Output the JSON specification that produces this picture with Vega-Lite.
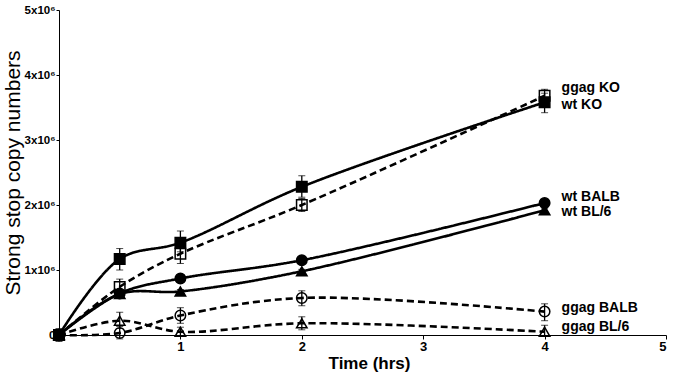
{
  "$schema": "https://vega.github.io/schema/vega-lite/v6.json",
  "width": 607,
  "height": 325,
  "autosize": "none",
  "padding": {"left": 59, "top": 10, "right": 11, "bottom": 39},
  "background": "white",
  "config": {"view": {"stroke": null}, "font": "Liberation Sans"},
  "datasets": {
    "pts": [
      {"series": "wt KO", "type": "wt", "t": 0, "v": 0, "lo": -100000, "hi": 100000},
      {"series": "wt KO", "type": "wt", "t": 0.5, "v": 1170000, "lo": 1000000, "hi": 1330000},
      {"series": "wt KO", "type": "wt", "t": 1, "v": 1420000, "lo": 1280000, "hi": 1600000},
      {"series": "wt KO", "type": "wt", "t": 2, "v": 2280000, "lo": 2120000, "hi": 2450000},
      {"series": "wt KO", "type": "wt", "t": 4, "v": 3580000, "lo": 3420000, "hi": 3720000},
      {"series": "ggag KO", "type": "ggag", "t": 0, "v": 0, "lo": 0, "hi": 0},
      {"series": "ggag KO", "type": "ggag", "t": 0.5, "v": 740000, "lo": 620000, "hi": 860000},
      {"series": "ggag KO", "type": "ggag", "t": 1, "v": 1250000, "lo": 1100000, "hi": 1380000},
      {"series": "ggag KO", "type": "ggag", "t": 2, "v": 2000000, "lo": 1900000, "hi": 2100000},
      {"series": "ggag KO", "type": "ggag", "t": 4, "v": 3680000, "lo": 3600000, "hi": 3780000},
      {"series": "wt BALB", "type": "wt", "t": 0, "v": 0, "lo": 0, "hi": 0},
      {"series": "wt BALB", "type": "wt", "t": 0.5, "v": 640000, "lo": 600000, "hi": 680000},
      {"series": "wt BALB", "type": "wt", "t": 1, "v": 870000, "lo": 840000, "hi": 900000},
      {"series": "wt BALB", "type": "wt", "t": 2, "v": 1150000, "lo": 1120000, "hi": 1180000},
      {"series": "wt BALB", "type": "wt", "t": 4, "v": 2030000, "lo": 2000000, "hi": 2060000},
      {"series": "wt BL/6", "type": "wt", "t": 0, "v": 0, "lo": 0, "hi": 0},
      {"series": "wt BL/6", "type": "wt", "t": 0.5, "v": 630000, "lo": 600000, "hi": 660000},
      {"series": "wt BL/6", "type": "wt", "t": 1, "v": 670000, "lo": 640000, "hi": 700000},
      {"series": "wt BL/6", "type": "wt", "t": 2, "v": 980000, "lo": 950000, "hi": 1010000},
      {"series": "wt BL/6", "type": "wt", "t": 4, "v": 1920000, "lo": 1890000, "hi": 1950000},
      {"series": "ggag BALB", "type": "ggag", "t": 0, "v": 0, "lo": 0, "hi": 0},
      {"series": "ggag BALB", "type": "ggag", "t": 0.5, "v": 30000, "lo": -60000, "hi": 130000},
      {"series": "ggag BALB", "type": "ggag", "t": 1, "v": 300000, "lo": 180000, "hi": 420000},
      {"series": "ggag BALB", "type": "ggag", "t": 2, "v": 570000, "lo": 450000, "hi": 680000},
      {"series": "ggag BALB", "type": "ggag", "t": 4, "v": 360000, "lo": 220000, "hi": 480000},
      {"series": "ggag BL/6", "type": "ggag", "t": 0, "v": 0, "lo": 0, "hi": 0},
      {"series": "ggag BL/6", "type": "ggag", "t": 0.5, "v": 220000, "lo": 100000, "hi": 350000},
      {"series": "ggag BL/6", "type": "ggag", "t": 1, "v": 50000, "lo": -20000, "hi": 120000},
      {"series": "ggag BL/6", "type": "ggag", "t": 2, "v": 180000, "lo": 80000, "hi": 280000},
      {"series": "ggag BL/6", "type": "ggag", "t": 4, "v": 50000, "lo": -20000, "hi": 150000}
    ],
    "labels": [
      {"label": "ggag KO", "t": 4, "v": 3800000},
      {"label": "wt KO", "t": 4, "v": 3540000},
      {"label": "wt BALB", "t": 4, "v": 2120000},
      {"label": "wt BL/6", "t": 4, "v": 1890000},
      {"label": "ggag BALB", "t": 4, "v": 420000},
      {"label": "ggag BL/6", "t": 4, "v": 130000}
    ]
  },
  "layer": [
    {
      "data": {"name": "pts"},
      "mark": {"type": "line", "interpolate": "catmull-rom", "color": "black", "strokeWidth": 2.6, "clip": false},
      "encoding": {
        "x": {"field": "t", "type": "quantitative", "scale": {"domain": [0, 5], "nice": false}, "title": "Time (hrs)",
          "axis": {"values": [0, 1, 2, 3, 4, 5], "format": "d", "labelExpr": "datum.value == 0 ? '' : datum.label", "titleFontSize": 17, "titleFontWeight": "bold", "titleColor": "black", "titlePadding": 2, "titleX": 310, "labelFontSize": 13, "labelFontWeight": "bold", "labelColor": "black", "domainColor": "black", "tickColor": "black", "tickSize": 4, "grid": false, "labelPadding": 1}},
        "y": {"field": "v", "type": "quantitative", "scale": {"domain": [0, 5000000], "nice": false}, "title": "Strong stop copy numbers",
          "axis": {"values": [0, 1000000, 2000000, 3000000, 4000000, 5000000], "labelExpr": "datum.value == 0 ? '0' : format(datum.value / 1000000, 'd') + 'x10⁶'", "titleFontSize": 21, "titleFontWeight": "normal", "titleColor": "black", "titlePadding": 1, "labelFontSize": 11.5, "labelFontWeight": "bold", "labelColor": "black", "domainColor": "black", "tickColor": "black", "tickSize": 3, "grid": false, "labelPadding": 1}},
        "detail": {"field": "series"},
        "strokeDash": {"field": "type", "type": "nominal", "scale": {"domain": ["wt", "ggag"], "range": [[1, 0], [7, 4]]}, "legend": null}
      }
    },
    {
      "data": {"name": "pts"},
      "mark": {"type": "errorbar", "ticks": {"size": 7, "color": "black"}, "rule": {"color": "black", "strokeWidth": 1.3}},
      "encoding": {
        "x": {"field": "t", "type": "quantitative", "title": "Time (hrs)"},
        "y": {"field": "lo", "type": "quantitative", "title": "Strong stop copy numbers"},
        "y2": {"field": "hi"}
      }
    },
    {
      "data": {"name": "pts"},
      "mark": {"type": "point", "filled": true, "stroke": "black", "strokeWidth": 1.5, "opacity": 1, "size": 110, "clip": false},
      "encoding": {
        "x": {"field": "t", "type": "quantitative", "title": "Time (hrs)"},
        "y": {"field": "v", "type": "quantitative", "title": "Strong stop copy numbers"},
        "shape": {"field": "series", "type": "nominal", "scale": {"domain": ["wt KO", "ggag KO", "wt BALB", "wt BL/6", "ggag BALB", "ggag BL/6"], "range": ["square", "square", "circle", "triangle-up", "circle", "triangle-up"]}, "legend": null},
        "fill": {"field": "type", "type": "nominal", "scale": {"domain": ["wt", "ggag"], "range": ["black", "transparent"]}, "legend": null}
      }
    },
    {
      "data": {"name": "labels"},
      "mark": {"type": "text", "align": "left", "baseline": "middle", "dx": 17, "fontSize": 14, "fontWeight": "bold", "color": "black", "font": "Liberation Sans"},
      "encoding": {
        "x": {"field": "t", "type": "quantitative", "title": "Time (hrs)"},
        "y": {"field": "v", "type": "quantitative", "title": "Strong stop copy numbers"},
        "text": {"field": "label"}
      }
    }
  ]
}
